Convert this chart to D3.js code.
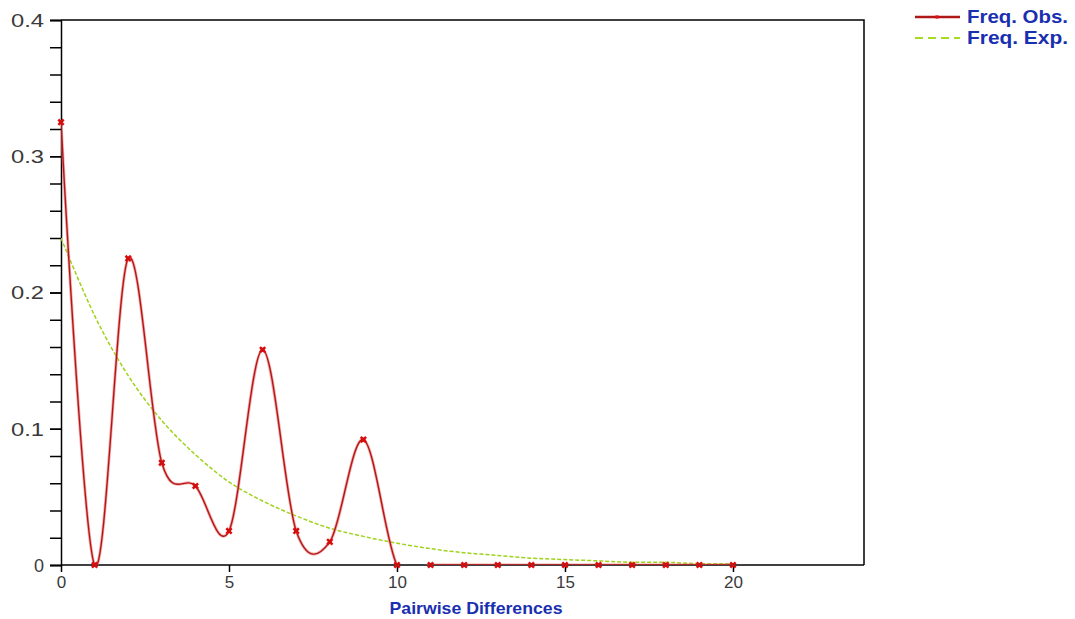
<!DOCTYPE html>
<html><head><meta charset="utf-8">
<script src="https://cdn.jsdelivr.net/npm/d3@7"></script>
<style>body{margin:0;background:#fff}svg{display:block}</style>
</head><body><svg id="c" width="1075" height="619"></svg>
<script>
const differences = d3.range(0, 21);
const freqObs = [0.325, 0, 0.225, 0.075, 0.058, 0.025, 0.158, 0.025, 0.017, 0.092, 0, 0, 0, 0, 0, 0, 0, 0, 0, 0, 0];
const freqExp = [0.240, 0.183, 0.139, 0.106, 0.081, 0.061, 0.047, 0.036, 0.027, 0.021, 0.016, 0.012, 0.009, 0.007, 0.005, 0.004, 0.003, 0.002, 0.002, 0.001, 0.001];
const xTicks = [0, 5, 10, 15, 20];
const yTicks = [0, 0.1, 0.2, 0.3, 0.4];
const yMinorTicks = d3.range(0, 0.401, 0.02);
const seriesNames = ["Freq. Obs.", "Freq. Exp."];
const xTitle = "Pairwise Differences";

const FONT = "Liberation Sans, Arial, sans-serif";
const svg = d3.select("#c");
const L = 61, R = 864, T = 20, B = 565;
const x = d3.scaleLinear().domain([0, 23.9]).range([L, R]);
const y = d3.scaleLinear().domain([0, 0.4]).range([B, T]);

svg.append("defs").append("clipPath").attr("id", "clip")
  .append("rect").attr("x", L).attr("y", T - 2).attr("width", R - L).attr("height", B - T + 2);

// frame
svg.append("path").attr("d", `M${L},${T}H${R}V${B}`).attr("fill", "none").attr("stroke", "#000").attr("stroke-width", 1.5);

// y axis
const yAxisMinor = d3.axisLeft(y).tickValues(yMinorTicks).tickSize(11).tickFormat("");
svg.append("g").attr("transform", `translate(${L},0)`).call(yAxisMinor)
  .call(g => g.selectAll("line,path").attr("stroke", "#000").attr("stroke-width", 1.5));
const yAxis = d3.axisLeft(y).tickValues(yTicks).tickSize(11).tickPadding(6)
  .tickFormat(d => d === 0 ? "0" : d3.format(".1f")(d));
svg.append("g").attr("transform", `translate(${L},0)`).call(yAxis)
  .call(g => g.select(".domain").remove())
  .call(g => g.selectAll("line").attr("stroke", "#000").attr("stroke-width", 1.5))
  .call(g => g.selectAll("text").attr("font-family", FONT).attr("font-size", 18).attr("fill", "#3a3a3a").attr("dy", "0.36em")
    .each(function(d) { if (d !== 0) d3.select(this).attr("textLength", 33).attr("lengthAdjust", "spacingAndGlyphs"); }));

// x axis
const xAxis = d3.axisBottom(x).tickValues(xTicks).tickSize(7).tickPadding(4).tickFormat(d3.format("d"));
svg.append("g").attr("transform", `translate(0,${B})`).call(xAxis)
  .call(g => g.select(".domain").attr("d", `M${L},0H${R}`).attr("stroke", "#000").attr("stroke-width", 1.5))
  .call(g => g.selectAll("line").attr("stroke", "#000").attr("stroke-width", 1.5))
  .call(g => g.selectAll("text").attr("font-family", FONT).attr("font-size", 17).attr("fill", "#3a3a3a"));

svg.append("text").attr("x", 476).attr("y", 614).attr("text-anchor", "middle")
  .attr("font-family", FONT).attr("font-weight", "bold").attr("font-size", 16.5)
  .attr("fill", "#1a2fb0").attr("textLength", 173).attr("lengthAdjust", "spacingAndGlyphs").text(xTitle);

const plot = svg.append("g").attr("clip-path", "url(#clip)");
const expLine = d3.line().x((d, i) => x(differences[i])).y(d => y(d)).curve(d3.curveCatmullRom.alpha(0));
plot.append("path").attr("d", expLine(freqExp)).attr("fill", "none").attr("stroke", "#9fd21a")
  .attr("stroke-width", 1.5).attr("stroke-dasharray", "4,2");

const obsLine = d3.line().x((d, i) => x(differences[i])).y(d => y(d)).curve(d3.curveCatmullRom.alpha(0));
plot.append("path").attr("d", obsLine(freqObs)).attr("fill", "none").attr("stroke", "#f07070").attr("stroke-width", 3).attr("opacity", 0.6);
plot.append("path").attr("d", obsLine(freqObs)).attr("fill", "none").attr("stroke", "#b01818").attr("stroke-width", 1.4);

svg.append("g").selectAll("path").data(freqObs).join("path")
  .attr("transform", (d, i) => `translate(${x(differences[i])},${y(d)}) rotate(45)`)
  .attr("d", d3.symbol().type(d3.symbolCross).size(32)).attr("fill", "#e01010");
svg.append("g").selectAll("path").data(freqObs).join("path")
  .attr("transform", (d, i) => `translate(${x(differences[i])},${y(d)})`)
  .attr("d", d3.symbol().type(d3.symbolSquare).size(16)).attr("fill", "#d01010");

// legend
const lg = svg.append("g");
lg.append("line").attr("x1", 915).attr("x2", 960).attr("y1", 17).attr("y2", 17).attr("stroke", "#b01818").attr("stroke-width", 2.5);
lg.append("path").attr("transform", "translate(937,17)").attr("d", d3.symbol().type(d3.symbolSquare).size(10)).attr("fill", "#e01010");
lg.append("line").attr("x1", 915).attr("x2", 960).attr("y1", 38).attr("y2", 38).attr("stroke", "#a8dc20").attr("stroke-width", 2).attr("stroke-dasharray", "8,5");
seriesNames.forEach((n, i) => {
  lg.append("text").attr("x", 967).attr("y", 23 + i * 21).attr("font-family", FONT)
    .attr("font-weight", "bold").attr("font-size", 18).attr("fill", "#1a2fb0")
    .attr("textLength", 101).attr("lengthAdjust", "spacingAndGlyphs").text(n);
});
</script></body></html>
